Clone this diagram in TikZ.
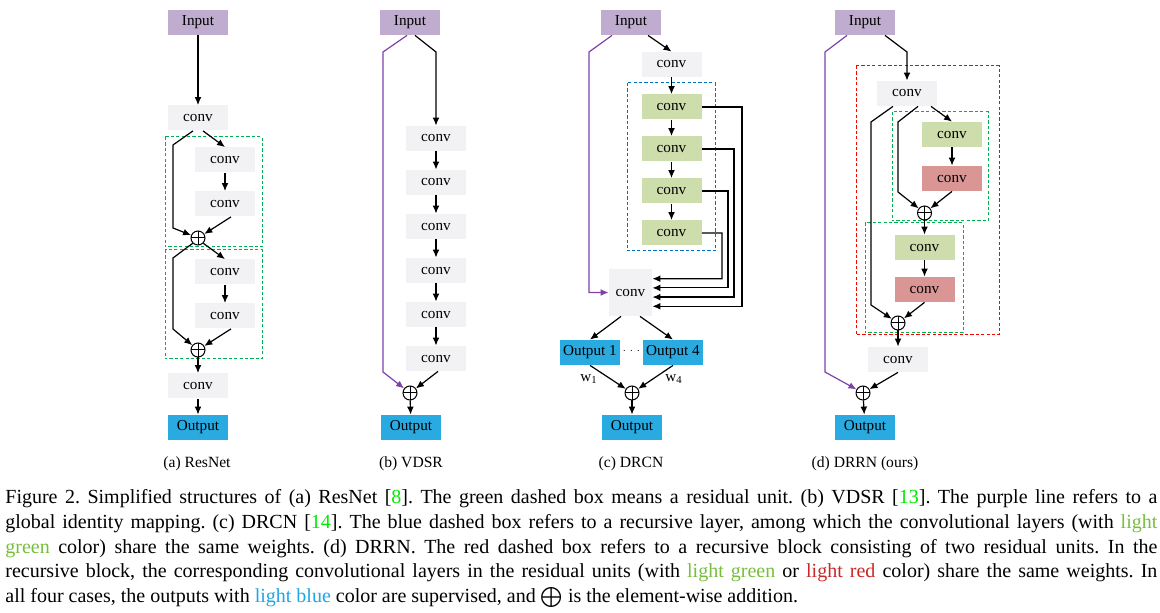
\documentclass[tikz,border=0pt]{standalone}
\usepackage{fontspec}
\setmainfont{Liberation Serif}
\usepackage{xcolor}
\usetikzlibrary{calc,arrows,arrows.meta}

\definecolor{inpurple}{RGB}{191,172,206}
\definecolor{convgray}{RGB}{242,242,244}
\definecolor{outblue}{RGB}{41,171,226}
\definecolor{convgreen}{RGB}{205,221,172}
\definecolor{convred}{RGB}{218,150,148}
\definecolor{boxgreen}{RGB}{0,176,80}
\definecolor{boxblue}{RGB}{0,112,192}
\definecolor{boxred}{RGB}{255,0,0}
\definecolor{idpurple}{RGB}{125,65,170}
\definecolor{refgreen}{RGB}{0,235,0}
\definecolor{txtgreen}{RGB}{120,190,60}
\definecolor{txtred}{RGB}{200,40,40}
\definecolor{txtblue}{RGB}{30,165,230}

\tikzset{
	layer/.style={inner sep=0pt,minimum width=30pt,minimum height=12.5pt,font=\fontsize{7.6}{9}\selectfont},
	inp/.style={layer,fill=inpurple},
	cnv/.style={layer,fill=convgray},
	cnvg/.style={layer,fill=convgreen},
	cnvr/.style={layer,fill=convred},
	outp/.style={layer,fill=outblue},
	addop/.style={circle,draw,line width=0.5pt,inner sep=0pt,minimum size=7pt,
		path picture={\draw[line width=0.5pt] (path picture bounding box.north) -- (path picture bounding box.south)
			(path picture bounding box.west) -- (path picture bounding box.east);}},
	flow/.style={-{Latex[length=4pt,width=3.4pt]},line width=0.6pt},
	ident/.style={flow,idpurple},
	unitbox/.style={draw=boxgreen,line width=0.5pt,dash pattern=on 1.6pt off 1.1pt},
	subcap/.style={font=\fontsize{7.8}{9}\selectfont}
}

\begin{document}
\begin{tikzpicture}[x=0.5pt,y=-0.5pt]
	\useasboundingbox (0,0) rectangle (1160,613);
	
	% (a) ResNet
	\draw[unitbox] (165,137) rectangle (262,247);
	\draw[unitbox] (165,250) rectangle (262,359);
	\node[inp] (a-in) at (198,22.5) {Input};
	\node[cnv] (a-c0) at (198,118) {conv};
	\node[cnv] (a-c1) at (225,160) {conv};
	\node[cnv] (a-c2) at (225,204) {conv};
	\node[addop] (a-p1) at (198,238) {};
	\node[cnv] (a-c3) at (225,272) {conv};
	\node[cnv] (a-c4) at (225,316) {conv};
	\node[addop] (a-p2) at (198,350) {};
	\node[cnv] (a-c5) at (198,386) {conv};
	\node[outp] (a-out) at (198,427.5) {Output};
	\node[subcap] (a-cap) at (197,464) {(a) ResNet};
	\draw[flow] (a-in) -- (a-c0);
	\draw[flow] ($(a-c0.south)+(-5,0)$) -- (173,145) -- (173,228) -- (a-p1);
	\draw[flow] ($(a-c0.south)+(5,0)$) -- (a-c1.north);
	\draw[flow] (a-c1) -- (a-c2);
	\draw[flow] ($(a-c2.south)+(6,0)$) -- (a-p1);
	\draw[flow] (a-p1.south west) -- (173,258) -- (173,329) -- (a-p2);
	\draw[flow] (a-p1.south east) -- (a-c3.north);
	\draw[flow] (a-c3) -- (a-c4);
	\draw[flow] ($(a-c4.south)+(6,0)$) -- (a-p2);
	\draw[flow] (a-p2) -- (a-c5);
	\draw[flow] (a-c5) -- (a-out);
	
	% (b) VDSR
	\node[inp] (b-in) at (410,22.5) {Input};
	\foreach \i/\y in {1/138.5,2/182.5,3/226.5,4/270.5,5/314.5,6/358.5}
		\node[cnv] (b-c\i) at (436,\y) {conv};
	\foreach \i/\j in {1/2,2/3,3/4,4/5,5/6}
		\draw[flow] (b-c\i) -- (b-c\j);
	\node[addop] (b-p) at (410,393) {};
	\node[outp] (b-out) at (411,427.5) {Output};
	\node[subcap] (b-cap) at (411,464) {(b) VDSR};
	\draw[ident] ($(b-in.south)+(-3,0)$) -- (383,52) -- (383,372) -- (b-p);
	\draw[flow] ($(b-in.south)+(5,0)$) -- (436,52) -- (b-c1.north);
	\draw[flow] ($(b-c6.south)+(2,0)$) -- (b-p);
	\draw[flow] (b-p) -- (b-out);
	
	% (c) DRCN
	\draw[draw=boxblue,line width=0.5pt,dash pattern=on 1.6pt off 1.1pt] (627,83) rectangle (715,251);
	\node[inp] (c-in) at (631,22.5) {Input};
	\node[cnv] (c-c0) at (671.5,64.5) {conv};
	\foreach \i/\y in {1/107,2/149,3/191,4/233}
		\node[cnvg] (c-g\i) at (671.5,\y) {conv};
	\foreach \i/\j in {1/2,2/3,3/4}
		\draw[flow] (c-g\i) -- (c-g\j);
	\node[cnv,minimum width=21.5pt,minimum height=23.5pt] (c-c5) at (630.5,292.5) {conv};
	\node[outp] (c-o1) at (590,352.5) {Output 1};
	\node[layer,font=\fontsize{5}{6}\selectfont] (c-dots) at (631.5,351) {$\cdots$};
	\node[outp] (c-o4) at (673,352.5) {Output 4};
	\node[addop] (c-p) at (632,393) {};
	\node[outp] (c-out) at (632,427.5) {Output};
	\node[layer] (c-w1) at (589,379) {w\textsubscript{1}};
	\node[layer] (c-w4) at (674,379) {w\textsubscript{4}};
	\node[subcap] (c-cap) at (631,464) {(c) DRCN};
	\draw[flow] ($(c-in.south)+(17,0)$) -- (c-c0.north);
	\draw[flow] (c-c0) -- (c-g1);
	\foreach \i/\x/\dy in {1/742/13.8,2/734/4.6,3/728/-4.6,4/722/-13.8}
		\draw[flow] (c-g\i.east) -| (\x,{292.5+\dy}) -- ($(c-c5.east)+(0,\dy)$);
	\draw[ident] ($(c-in.south)+(-19,0)$) -- (589,52) |- (c-c5.west);
	\draw[flow] ($(c-c5.south)+(-9.5,0)$) -- (c-o1.north);
	\draw[flow] ($(c-c5.south)+(9.5,0)$) -- (c-o4.north);
	\draw[flow] (c-o1.south) -- (c-p);
	\draw[flow] (c-o4.south) -- (c-p);
	\draw[flow] (c-p) -- (c-out);
	
	% (d) DRRN
	\draw[draw=boxred,line width=0.5pt,dash pattern=on 1.6pt off 1.1pt] (856,66) rectangle (999,335);
	\draw[unitbox] (892,112) rectangle (988,221);
	\draw[unitbox] (865,223) rectangle (963,333);
	\node[inp] (d-in) at (865,22.5) {Input};
	\node[cnv] (d-c0) at (907,93.5) {conv};
	\node[cnvg] (d-g1) at (952,134.5) {conv};
	\node[cnvr] (d-r1) at (952,178.5) {conv};
	\node[addop] (d-p1) at (924.5,213) {};
	\node[cnvg] (d-g2) at (924.5,247.5) {conv};
	\node[cnvr] (d-r2) at (924.5,289.5) {conv};
	\node[addop] (d-p2) at (898,323) {};
	\node[cnv] (d-c3) at (898,359.5) {conv};
	\node[addop] (d-p3) at (863,393) {};
	\node[outp] (d-out) at (865,427.5) {Output};
	\node[subcap] (d-cap) at (865,464) {(d) DRRN (ours)};
	\draw[ident] ($(d-in.south)+(-18,0)$) -- (825,52) -- (825,372) -- (d-p3);
	\draw[flow] ($(d-in.south)+(20,0)$) -- (907,52) -- (d-c0.north);
	\draw[flow] ($(d-c0.south)+(-14,0)$) -- (871,122) -- (871,305) -- (d-p2);
	\draw[flow] ($(d-c0.south)+(11,0)$) -- (898,122) -- (898,192) -- (d-p1);
	\draw[flow] ($(d-c0.south)+(24,0)$) -- (d-g1.north);
	\draw[flow] (d-g1) -- (d-r1);
	\draw[flow] (d-r1.south) -- (d-p1);
	\draw[flow] (d-p1) -- (d-g2);
	\draw[flow] (d-g2) -- (d-r2);
	\draw[flow] (d-r2.south) -- (d-p2);
	\draw[flow] (d-p2) -- (d-c3);
	\draw[flow] (d-c3.south) -- (d-p3);
	\draw[flow] (d-p3) -- (d-out);
	
	% caption
	\node[anchor=north west,inner sep=0pt,text width=576pt,align=justify,font=\fontsize{10}{12.4}\selectfont] (fig-cap) at (5,489) {\hyphenpenalty=10000\frenchspacing
		Figure 2. Simplified structures of (a) ResNet [\textcolor{refgreen}{8}]. The green dashed box means a residual unit. (b) VDSR [\textcolor{refgreen}{13}]. The purple line refers to a\linebreak
		global identity mapping. (c) DRCN [\textcolor{refgreen}{14}]. The blue dashed box refers to a recursive layer, among which the convolutional layers (with \textcolor{txtgreen}{light}\linebreak
		\textcolor{txtgreen}{green} color) share the same weights. (d) DRRN. The red dashed box refers to a recursive block consisting of two residual units. In the\linebreak
		recursive block, the corresponding convolutional layers in the residual units (with \textcolor{txtgreen}{light green} or \textcolor{txtred}{light red} color) share the same weights. In\linebreak
		all four cases, the outputs with \textcolor{txtblue}{light blue} color are supervised, and $\bigoplus$ is the element-wise addition.\par};
\end{tikzpicture}
\end{document}
